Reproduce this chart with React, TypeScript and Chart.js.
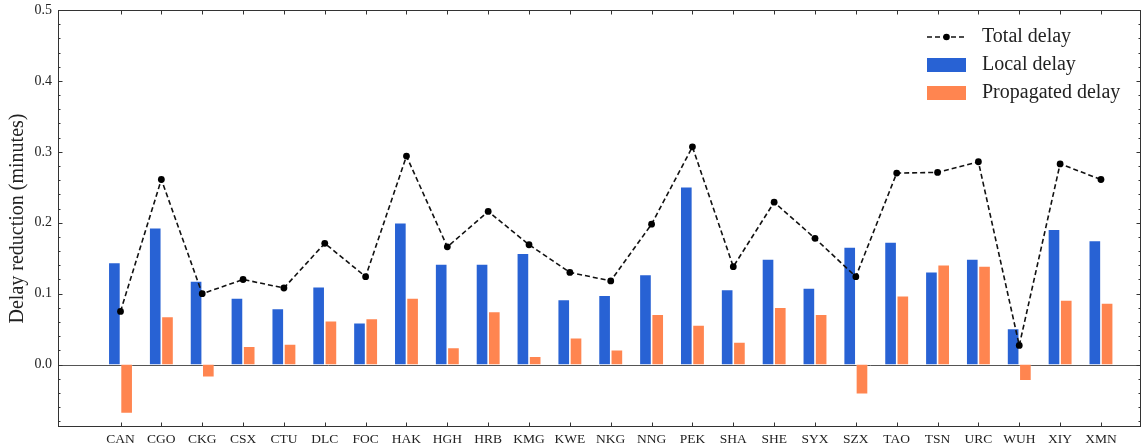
import React, { useEffect, useRef } from 'react';
import { Chart, registerables } from 'chart.js';

Chart.register(...registerables);

const categories = ['CAN', 'CGO', 'CKG', 'CSX', 'CTU', 'DLC', 'FOC', 'HAK', 'HGH', 'HRB', 'KMG', 'KWE', 'NKG', 'NNG', 'PEK', 'SHA', 'SHE', 'SYX', 'SZX', 'TAO', 'TSN', 'URC', 'WUH', 'XIY', 'XMN'];
const localDelay = [0.144, 0.193, 0.118, 0.094, 0.079, 0.110, 0.059, 0.200, 0.142, 0.142, 0.157, 0.092, 0.098, 0.127, 0.251, 0.106, 0.149, 0.108, 0.166, 0.173, 0.131, 0.149, 0.051, 0.191, 0.175];
const propagatedDelay = [-0.069, 0.068, -0.018, 0.026, 0.029, 0.062, 0.065, 0.094, 0.024, 0.075, 0.012, 0.038, 0.021, 0.071, 0.056, 0.032, 0.081, 0.071, -0.042, 0.097, 0.141, 0.139, -0.023, 0.091, 0.087];
const totalDelay = [0.075, 0.261, 0.100, 0.120, 0.108, 0.171, 0.124, 0.294, 0.166, 0.216, 0.169, 0.130, 0.118, 0.198, 0.307, 0.138, 0.229, 0.178, 0.124, 0.270, 0.271, 0.286, 0.027, 0.283, 0.261];
const yTicks = [0, 0.1, 0.2, 0.3, 0.4, 0.5];
const yMinorTicks = [-0.08, -0.06, -0.04, -0.02, 0.02, 0.04, 0.06, 0.08, 0.12, 0.14, 0.16, 0.18, 0.22, 0.24, 0.26, 0.28, 0.32, 0.34, 0.36, 0.38, 0.42, 0.44, 0.46, 0.48];
const legendLabels = ['Total delay', 'Local delay', 'Propagated delay'];

const BLUE = '#2862D4';
const ORANGE = '#FF8550';
const TEXT = '#222';
const FONT = '"Liberation Serif", "DejaVu Serif", serif';

const framePlugin = {
  id: 'frame',
  beforeDatasetsDraw(chart: any) {
    const { ctx, chartArea: a, scales } = chart;
    const y0 = Math.round(scales.y.getPixelForValue(0)) + 0.5;
    ctx.save();
    ctx.strokeStyle = '#555';
    ctx.lineWidth = 1;
    ctx.beginPath();
    ctx.moveTo(a.left, y0);
    ctx.lineTo(a.right, y0);
    ctx.stroke();
    ctx.restore();
  },
  afterDraw(chart: any) {
    const { ctx, chartArea: a, scales } = chart;
    const xs = scales.x;
    const ys = scales.y;
    ctx.save();
    ctx.strokeStyle = '#333';
    ctx.lineWidth = 1;
    ctx.strokeRect(a.left + 0.5, a.top + 0.5, a.right - a.left - 1, a.bottom - a.top - 1);
    ctx.beginPath();
    const major = 4.5;
    const minor = 2.5;
    yTicks.forEach((v) => {
      const p = Math.round(ys.getPixelForValue(v)) + 0.5;
      ctx.moveTo(a.left, p); ctx.lineTo(a.left + major, p);
      ctx.moveTo(a.right, p); ctx.lineTo(a.right - major, p);
    });
    yMinorTicks.forEach((v) => {
      const p = Math.round(ys.getPixelForValue(v)) + 0.5;
      ctx.moveTo(a.left, p); ctx.lineTo(a.left + minor, p);
      ctx.moveTo(a.right, p); ctx.lineTo(a.right - minor, p);
    });
    categories.forEach((_, i) => {
      const p = Math.round(xs.getPixelForValue(i)) + 0.5;
      ctx.moveTo(p, a.top); ctx.lineTo(p, a.top + major);
      ctx.moveTo(p, a.bottom); ctx.lineTo(p, a.bottom - major);
    });
    ctx.stroke();

    // legend
    const lx0 = 927;
    const lx1 = 966;
    const rows = [37, 65, 93];
    ctx.strokeStyle = '#111';
    ctx.lineWidth = 1.6;
    ctx.setLineDash([5, 3]);
    ctx.beginPath();
    ctx.moveTo(lx0, rows[0]);
    ctx.lineTo(lx1, rows[0]);
    ctx.stroke();
    ctx.setLineDash([]);
    ctx.fillStyle = '#000';
    ctx.beginPath();
    ctx.arc((lx0 + lx1) / 2, rows[0], 3.3, 0, Math.PI * 2);
    ctx.fill();
    ctx.fillStyle = BLUE;
    ctx.fillRect(lx0, rows[1] - 7, lx1 - lx0, 14);
    ctx.fillStyle = ORANGE;
    ctx.fillRect(lx0, rows[2] - 7, lx1 - lx0, 14);
    ctx.fillStyle = TEXT;
    ctx.font = `20px ${FONT}`;
    ctx.textBaseline = 'middle';
    ctx.textAlign = 'left';
    legendLabels.forEach((t, i) => ctx.fillText(t, 982, rows[i]));
    ctx.restore();
  },
};

export default function App() {
  const ref = useRef<HTMLCanvasElement>(null);
  useEffect(() => {
    document.body.style.margin = '0';
    const canvas = ref.current!;
    const chart = new Chart(canvas, {
      type: 'bar',
      data: {
        datasets: [
          {
            type: 'line',
            label: legendLabels[0],
            data: totalDelay.map((v, i) => ({ x: i, y: v })),
            borderColor: '#111',
            borderWidth: 1.6,
            borderDash: [5, 3],
            pointRadius: 3.4,
            pointBackgroundColor: '#000',
            pointBorderWidth: 0,
            tension: 0,
            order: 0,
          } as any,
          {
            type: 'bar',
            label: legendLabels[1],
            data: localDelay.map((v, i) => ({ x: i, y: v })),
            backgroundColor: BLUE,
            borderColor: 'rgba(255,255,255,0.35)',
            borderWidth: 0.8,
            categoryPercentage: 0.6,
            barPercentage: 1,
            order: 1,
          },
          {
            type: 'bar',
            label: legendLabels[2],
            data: propagatedDelay.map((v, i) => ({ x: i, y: v })),
            backgroundColor: ORANGE,
            borderColor: 'rgba(255,255,255,0.35)',
            borderWidth: 0.8,
            categoryPercentage: 0.6,
            barPercentage: 1,
            order: 2,
          },
        ],
      },
      options: {
        responsive: false,
        animation: false,
        devicePixelRatio: 1,
        layout: { autoPadding: false, padding: { top: 10, right: 1, left: 0, bottom: 0 } },
        plugins: { legend: { display: false }, tooltip: { enabled: false } },
        scales: {
          x: {
            type: 'linear',
            min: -1.53,
            max: 24.98,
            offset: false,
            grid: { display: false, drawTicks: false },
            border: { display: false },
            afterBuildTicks: (axis: any) => {
              axis.ticks = categories.map((_, i) => ({ value: i }));
            },
            afterFit: (s: any) => {
              s.height = 19;
              s.paddingLeft = 0;
              s.paddingRight = 0;
            },
            ticks: {
              autoSkip: false,
              maxRotation: 0,
              padding: 4,
              color: TEXT,
              font: { family: FONT, size: 13.5 },
              callback: (v: any) => categories[Math.round(Number(v))] ?? '',
            },
          },
          y: {
            type: 'linear',
            min: -0.088,
            max: 0.5,
            grid: { display: false, drawTicks: false },
            border: { display: false },
            afterBuildTicks: (axis: any) => {
              axis.ticks = yTicks.map((v) => ({ value: v }));
            },
            afterFit: (s: any) => {
              s.width = 58;
              s.paddingTop = 0;
              s.paddingBottom = 0;
            },
            ticks: {
              padding: 6,
              color: TEXT,
              font: { family: FONT, size: 14 },
              callback: (v: any) => Number(v).toFixed(1),
            },
            title: {
              display: true,
              text: 'Delay reduction (minutes)',
              color: TEXT,
              font: { family: FONT, size: 20 },
              padding: { top: 6, bottom: 0 },
            },
          },
        },
      },
      plugins: [framePlugin],
    });
    return () => chart.destroy();
  }, []);
  return (
    <div style={{ width: 1142, height: 446 }}>
      <canvas ref={ref} width={1142} height={446} style={{ display: 'block' }} />
    </div>
  );
}
